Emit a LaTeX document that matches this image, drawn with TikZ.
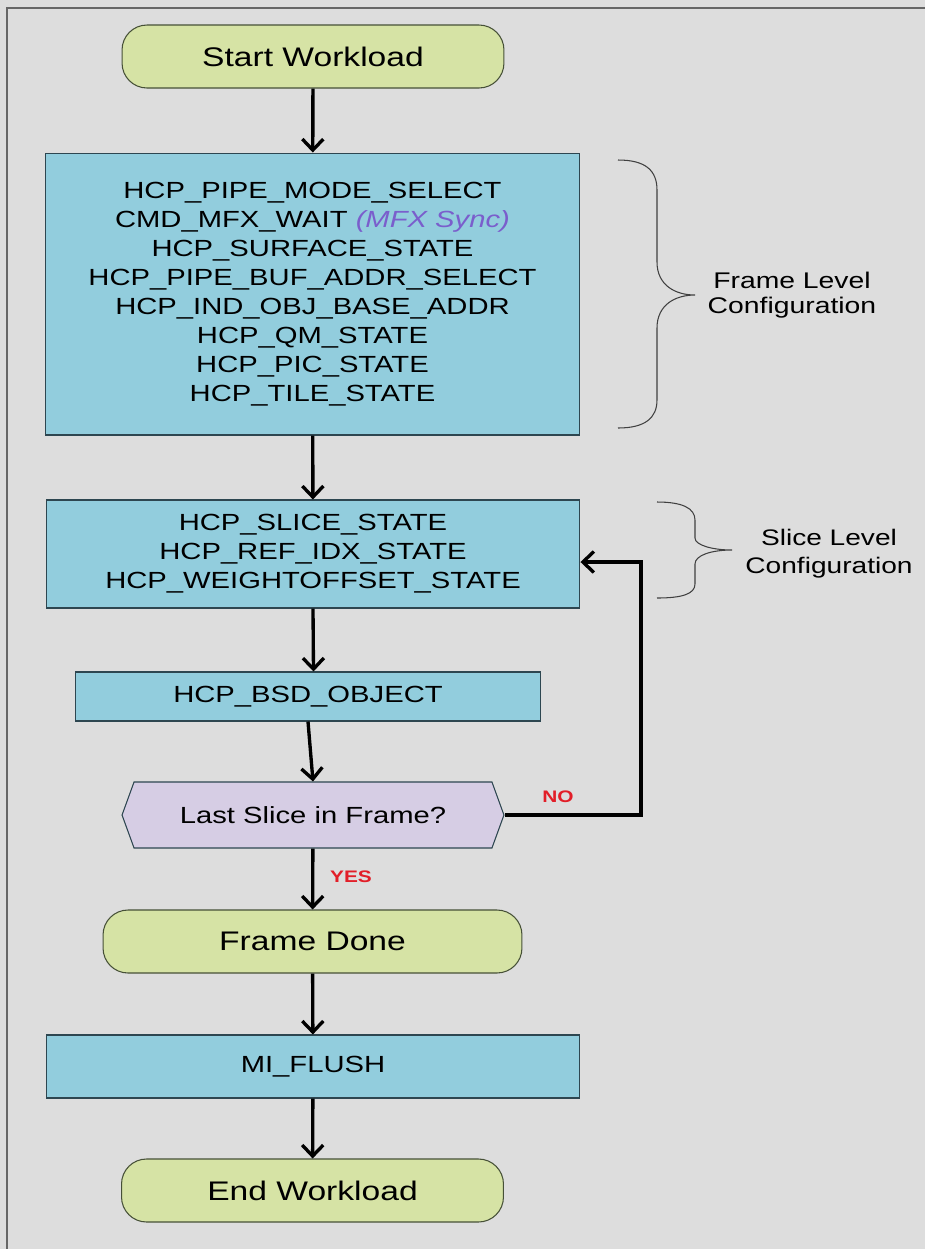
\documentclass[tikz,border=0pt]{standalone}
\usepackage{fontspec}
\usetikzlibrary{arrows.meta,shapes.symbols}
\setmainfont{Liberation Sans}[FakeStretch=1.25]

\definecolor{paper}{RGB}{221,221,221}
\definecolor{ovalfill}{RGB}{214,227,165}
\definecolor{ovalline}{RGB}{70,80,55}
\definecolor{boxfill}{RGB}{146,205,221}
\definecolor{boxline}{RGB}{45,70,80}
\definecolor{askfill}{RGB}{214,205,228}
\definecolor{syncviolet}{RGB}{122,94,204}
\definecolor{answerred}{RGB}{226,30,40}

\tikzset{
  terminal/.style={draw=ovalline, fill=ovalfill, line width=0.6pt, rounded corners=0.5cm,
    inner sep=0pt, font=\fontsize{15.3}{18}\selectfont},
  cmdbox/.style={draw=boxline, fill=boxfill, line width=0.6pt, inner sep=0pt, align=center,
    font=\fontsize{13.3}{16.5}\selectfont},
  ask/.style={signal, signal to=east and west, signal pointer angle=140, draw=boxline,
    fill=askfill, line width=0.6pt, inner sep=0pt, font=\fontsize{13.3}{16}\selectfont},
  flow/.style={line width=1.9pt, -{Straight Barb[length=2.2mm,width=4.2mm]}},
  curly/.style={draw=black!75, line width=0.6pt},
  levellabel/.style={align=center, font=\fontsize{12.9}{14}\selectfont},
  answer/.style={text=answerred, font=\bfseries\fontsize{9.5}{11}\selectfont}
}

\begin{document}
\begin{tikzpicture}[x=0.02cm, y=-0.02cm]
    \useasboundingbox (0,0) rectangle (925,1249);
    \fill[paper] (0,0) rectangle (925,1249);
    \draw[black!60, line width=0.6pt] (7,1249) -- (7,8) -- (925,8);

    \node[terminal, minimum width=7.64cm, minimum height=1.26cm] at (313,56.5)    (Start) {Start Workload};
    \node[cmdbox, minimum width=10.7cm, minimum height=5.64cm]   at (312.5,294)   (FrameCfg)
        {HCP\_PIPE\_MODE\_SELECT\\
         CMD\_MFX\_WAIT \textcolor{syncviolet}{\itshape (MFX Sync)}\\
         HCP\_SURFACE\_STATE\\
         HCP\_PIPE\_BUF\_ADDR\_SELECT\\
         HCP\_IND\_OBJ\_BASE\_ADDR\\
         HCP\_QM\_STATE\\
         HCP\_PIC\_STATE\\
         HCP\_TILE\_STATE};
    \node[cmdbox, minimum width=10.68cm, minimum height=2.16cm]  at (313,554)     (SliceCfg)
        {HCP\_SLICE\_STATE\\
         HCP\_REF\_IDX\_STATE\\
         HCP\_WEIGHTOFFSET\_STATE};
    \node[cmdbox, minimum width=9.32cm, minimum height=0.98cm]   at (308,696.5)   (BSD)  {HCP\_BSD\_OBJECT};
    \node[ask, minimum width=7.64cm, minimum height=1.32cm]      at (313,815)     (Last) {Last Slice in Frame?};
    \node[terminal, minimum width=8.38cm, minimum height=1.26cm] at (312.5,941.5) (Done) {Frame Done};
    \node[cmdbox, minimum width=10.68cm, minimum height=1.26cm]  at (313,1066.5)  (Flush) {MI\_FLUSH};
    \node[terminal, minimum width=7.64cm, minimum height=1.26cm] at (312.5,1190.5) (End)  {End Workload};

    \node[levellabel] at (792,295) (FrameLbl) {Frame Level\\Configuration};
    \node[levellabel, font=\fontsize{12.8}{15.9}\selectfont] at (829,554) (SliceLbl) {Slice Level\\Configuration};
    \node[answer] at (558,797) (No)  {NO};
    \node[answer] at (351,877) (Yes) {YES};
    \coordinate (LoopUp) at (641,562);

    % braces
    \draw[curly] (618,160) .. controls (645,160) and (657,170) .. (657,190) -- (657,262)
        .. controls (657,285) and (675,295) .. (695,295)
        .. controls (675,295) and (657,305) .. (657,328) -- (657,400)
        .. controls (657,418) and (645,428) .. (618,428);
    \draw[curly] (657,502) .. controls (682,502) and (695,508) .. (695,520) -- (695,538)
        .. controls (695,545) and (712,550) .. (732,550)
        .. controls (712,550) and (695,555) .. (695,564) -- (695,584)
        .. controls (695,594) and (682,598) .. (657,598);

    \draw[flow] (Start) -- (FrameCfg);
    \draw[flow] (FrameCfg) -- (SliceCfg);
    \draw[flow] (SliceCfg.south) -- (BSD.north -| 313.5,0);
    \draw[flow] (BSD.south) -- (Last.north);
    \draw[flow] (Last.east) -| (LoopUp) -- (SliceCfg.east |- LoopUp);
    \draw[flow] (Last) -- (Done);
    \draw[flow] (Done) -- (Flush);
    \draw[flow] (Flush) -- (End);
\end{tikzpicture}
\end{document}
